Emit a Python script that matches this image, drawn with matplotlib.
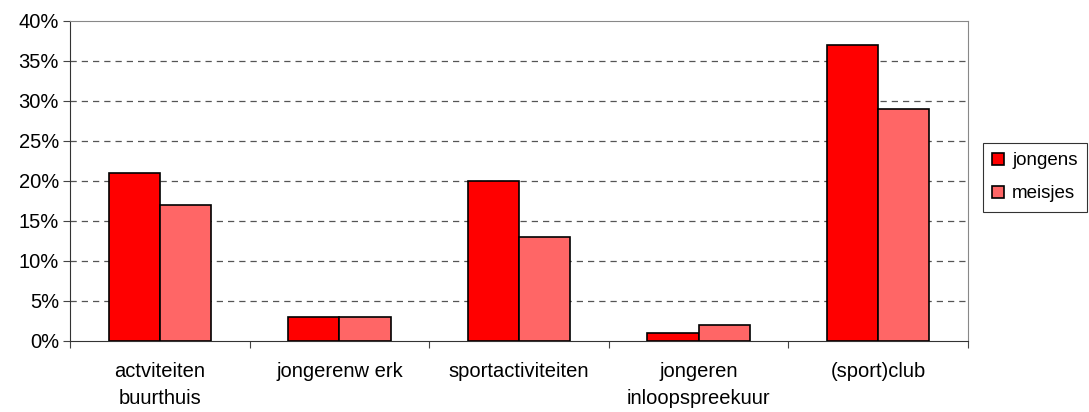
import matplotlib
matplotlib.use("Agg")
import matplotlib.pyplot as plt
import numpy as np

plt.rcParams['font.family'] = ['Liberation Sans', 'DejaVu Sans']

categories = ['actviteiten\nbuurthuis', 'jongerenw erk', 'sportactiviteiten',
              'jongeren\ninloopspreekuur', '(sport)club']
jongens = [21, 3, 20, 1, 37]
meisjes = [17, 3, 13, 2, 29]
yticks = [0, 5, 10, 15, 20, 25, 30, 35, 40]

fig = plt.figure(figsize=(10.89, 4.12), dpi=100)
ax = fig.add_axes([70 / 1089, 1 - 341 / 412, 898 / 1089, 320 / 412])

x = np.arange(len(categories))
w = 0.285
ax.bar(x - w / 2, jongens, w, color='#FF0000', edgecolor='black', linewidth=1.2,
       label='jongens', zorder=3)
ax.bar(x + w / 2, meisjes, w, color='#FF6666', edgecolor='black', linewidth=1.2,
       label='meisjes', zorder=3)

ax.set_xlim(-0.5, len(categories) - 0.5)
ax.set_ylim(0, 40)
ax.set_yticks(yticks)
ax.set_yticklabels([f'{v}%' for v in yticks], fontsize=14.5)
for v in yticks[1:-1]:
    ax.axhline(v, color='#555555', linestyle=(0, (5, 4)), linewidth=0.9, zorder=1)

# category labels centred, ticks on the boundaries
ax.set_xticks(np.arange(len(categories) + 1) - 0.5)
ax.set_xticklabels([])
ax.tick_params(axis='x', length=5, direction='out', color='#444444')
ax.tick_params(axis='y', length=5, direction='out', color='#444444', pad=3)
for i, c in enumerate(categories):
    ax.text(i, -2.6, c, ha='center', va='top', fontsize=14.5, linespacing=1.55)

for s in ['top', 'right']:
    ax.spines[s].set_color('#888888')
for s in ['left', 'bottom']:
    ax.spines[s].set_color('#333333')

leg = ax.legend(loc='upper left', bbox_to_anchor=(983 / 1089, 1 - 143 / 412),
                bbox_transform=fig.transFigure, fontsize=13.5, frameon=True,
                fancybox=False, edgecolor='black', handlelength=0.6,
                handleheight=0.6, handletextpad=0.45, labelspacing=0.85,
                borderpad=0.5, borderaxespad=0)
leg.get_frame().set_linewidth(0.8)

fig.savefig('out.png', dpi=100)
